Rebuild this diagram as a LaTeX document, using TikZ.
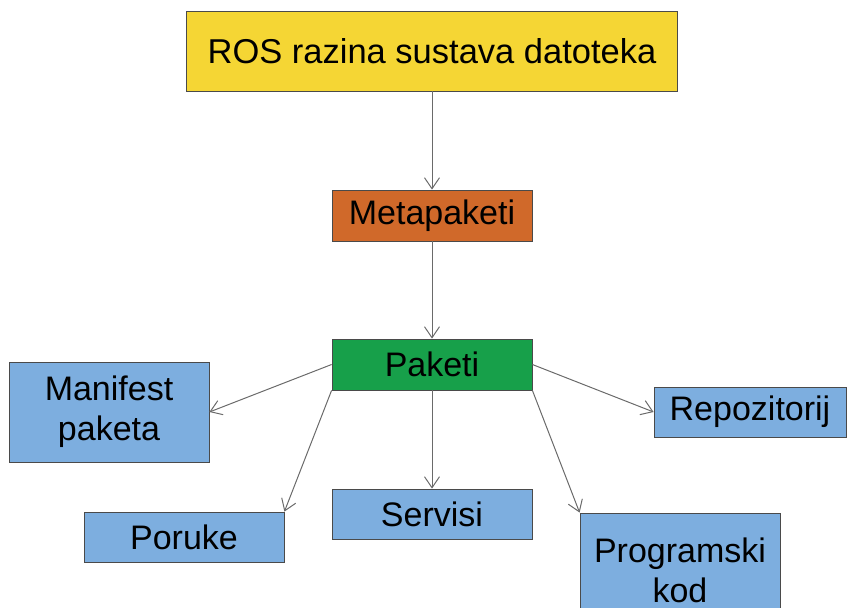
\documentclass[tikz,border=0pt]{standalone}
\usepackage{fontspec}
\setmainfont{Liberation Sans}
\usepackage{xcolor}
\usetikzlibrary{arrows.meta}

\definecolor{rosyellow}{HTML}{F5D634}
\definecolor{metaorange}{HTML}{D0692A}
\definecolor{pkggreen}{HTML}{17A04A}
\definecolor{partblue}{HTML}{7DAEDF}
\definecolor{boxline}{HTML}{4A4A4A}
\definecolor{linkgray}{HTML}{6A6A6A}

\begin{document}
\begin{tikzpicture}[x=1pt, y=-1pt,
	textbox/.style={draw=boxline, line width=0.8pt, minimum width=200, minimum height=50, inner sep=0, align=center, font=\fontsize{34}{40}\selectfont},
	link/.style={draw=linkgray, line width=1pt, -{Straight Barb[length=11pt,width=15pt]}}
]
\useasboundingbox (0,0) rectangle (847,608);

\node[textbox, fill=rosyellow, minimum width=491, minimum height=80, font=\fontsize{34.5}{40}\selectfont] (ros) at (432,51) {ROS razina sustava datoteka};
\node[textbox, fill=metaorange, minimum height=51] (meta) at (432,215.5) {Metapaketi};
\node[textbox, fill=pkggreen, minimum height=51] (paketi) at (432,364.5) {Paketi};

\node[textbox, fill=partblue, minimum height=100] (manifest) at (109,412) {Manifest\\paketa};
\node[textbox, fill=partblue] (poruke) at (184,537) {Poruke};
\node[textbox, fill=partblue] (servisi) at (432,514) {Servisi};
\node[textbox, fill=partblue, minimum width=192] (repo) at (750,412) {Repozitorij};
\node[textbox, fill=partblue, minimum height=114] (kod) at (680,570) {Programski\\kod};

\draw[link] (ros) -- (meta);
\draw[link] (meta) -- (paketi);
\draw[link] (paketi.west) -- (manifest.east);
\draw[link] (paketi.south west) -- (poruke.north east);
\draw[link] (paketi) -- (servisi);
\draw[link] (paketi.east) -- (repo.west);
\draw[link] (paketi.south east) -- (kod.north west);
\end{tikzpicture}
\end{document}
